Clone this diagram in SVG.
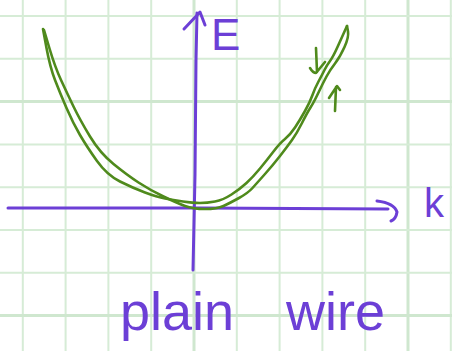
<svg xmlns="http://www.w3.org/2000/svg" width="452" height="351" viewBox="0 0 452 351">
<style>
.g{stroke:#d6ecd6;stroke-width:2;fill:none}
.gt{stroke:#cfe7cf;stroke-width:3;fill:none}
.ax{stroke:#6c3fd6;stroke-width:3;fill:none;stroke-linecap:round;stroke-linejoin:round}
.band{stroke:#4f8a1c;stroke-width:2.6;fill:none;stroke-linecap:round;stroke-linejoin:round}
.lbl{fill:#6c3fd6;font-family:"Liberation Sans",Arial,sans-serif}
</style>
<rect width="452" height="351" fill="#ffffff"/>
<g id="grid">
<path class="g" d="M22.8 0V351M65.6 0V351M108.4 0V351M151.2 0V351M236.8 0V351M279.6 0V351M322.4 0V351M365.2 0V351M450.8 0V351"/>
<path class="gt" d="M194 0V351M408 0V351"/>
<path class="g" d="M0 16H452M0 58.8H452M0 144.4H452M0 187.2H452M0 230H452M0 272.8H452"/>
<path class="gt" d="M0 101.6H452M0 315.6H452"/>
</g>
<g id="connectors">
<path id="e-axis" class="ax" d="M197 13 L196 60 L195 175 L193 270"/>
<path id="e-arrowhead" class="ax" d="M184 29 L200 12 L205 25"/>
<path id="k-axis" class="ax" d="M8 208 L200 208 L388 209"/>
<path id="k-arrowhead" class="ax" d="M377 201 Q394 203 397 212 Q396 219 391 221"/>
</g>
<g id="band-upper">
<path class="band" d="M43 29 L46.5 48 Q50 67 55 80 Q60 93 66.5 108 Q73 123 80 135 Q87 147 97 161 Q107 175 120 181.5 Q133 188 145 192.5 Q157 197 165 198.5 Q173 200 183 201.5 Q193 203 200 203 Q207 203 215 201.5 Q223 200 231.5 194.5 Q240 189 246.5 183 Q253 177 260 168.5 Q267 160 273.5 151.5 Q280 143 285 139 Q290 135 295 127.5 Q300 120 305 111 Q310 102 312.5 95 Q315 88 318.5 81.5 Q322 75 324.5 70 Q327 65 330 61 Q333 57 337.5 47 Q342 37 344.5 31.5 L347 26"/>
</g>
<g id="band-lower">
<path class="band" d="M44 30 L49.5 48.5 Q55 67 61 80 Q67 93 73.5 106.5 Q80 120 90 136.5 Q100 153 113.5 164 Q127 175 138.5 182.5 Q150 190 163.5 196.5 Q177 203 185 206 Q193 209 205 209 Q217 209 223.5 206 Q230 203 239 198 Q248 193 252.5 188 Q257 183 265 174 Q273 165 280 156 Q287 147 292 140 Q297 133 302 123 Q307 113 310.5 107.5 Q314 102 318.5 92.5 Q323 83 326.5 76.5 Q330 70 335 63.5 Q340 57 344.5 47 Q349 37 348 31.5 L347 26"/>
</g>
<g id="spin-down">
<path class="band" d="M316 48 L317 72 M310 68 Q313 73 316 73 L325 62"/>
</g>
<g id="spin-up">
<path class="band" d="M335 111 L336 87 M329 98 L337 86 L340 90"/>
</g>
<g id="label-E"><text class="lbl" x="211" y="50" font-size="44">E</text></g>
<g id="label-k"><text class="lbl" x="424" y="217" font-size="40">k</text></g>
<g id="title"><text class="lbl" y="330" font-size="54"><tspan x="120">plain</tspan> <tspan x="286">wire</tspan></text></g>
</svg>
